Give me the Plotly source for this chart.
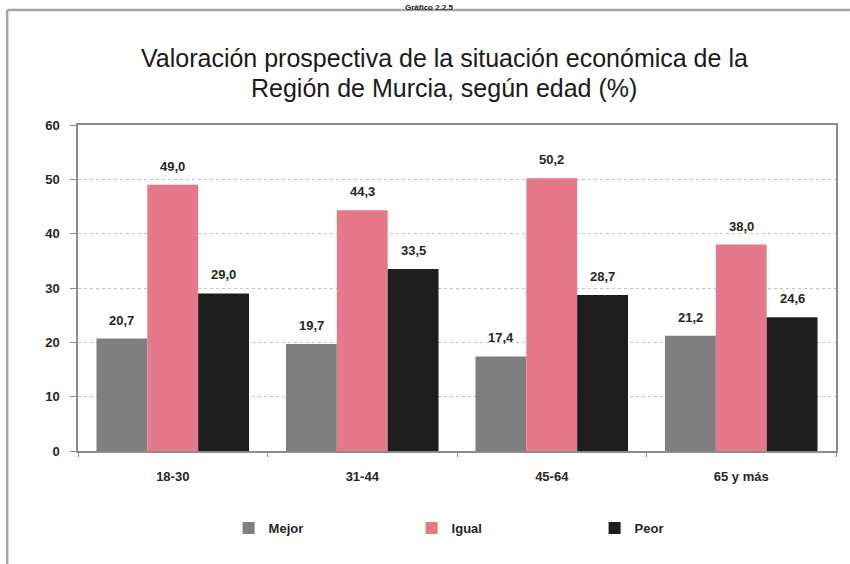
import plotly.graph_objects as go

# datos del gráfico
edades = ['18-30', '31-44', '45-64', '65 y más']
mejor = [20.7, 19.7, 17.4, 21.2]
igual = [49.0, 44.3, 50.2, 38.0]
peor = [29.0, 33.5, 28.7, 24.6]

series = [('Mejor', mejor, '#7f7f7f'), ('Igual', igual, '#e5788a'), ('Peor', peor, '#1e1e1e')]
titulo = ['Valoración prospectiva de la situación económica de la',
          'Región de Murcia, según edad (%)']

# geometry of the plot area (pixels in the 850x564 page)
L, R, T, B = 78, 12, 125, 113
W, H = 850 - L - R, 564 - T - B
BAR_PX = 51  # ancho aproximado de cada barra, para colocar las etiquetas


def px(x):
    return (x - L) / W


def py(y):
    return (564 - B - y) / H


fig = go.Figure()
for i, (name, vals, color) in enumerate(series):
    fig.add_trace(go.Bar(
        x=edades, y=vals, name=name, marker=dict(color=color, line=dict(width=0)),
    ))
    # etiquetas de valor encima de cada barra
    for cat, v in zip(edades, vals):
        fig.add_annotation(
            x=cat, y=v, xref='x', yref='y', xshift=(i - 1) * BAR_PX, yshift=9,
            text=f'{v:.1f}'.replace('.', ','), showarrow=False, yanchor='bottom',
            font=dict(family='Liberation Sans', size=13, color='#262626', weight='bold'),
        )

fig.update_layout(
    width=850, height=564,
    margin=dict(l=L, r=R, t=T, b=B),
    paper_bgcolor='white', plot_bgcolor='white',
    barmode='group', bargap=0.195, bargroupgap=0,
    font=dict(family='Liberation Sans', size=13, color='#262626'),
    showlegend=True,
    legend=dict(orientation='h', x=px(229), y=py(528), xanchor='left', yanchor='middle',
                entrywidth=138, entrywidthmode='pixels',
                font=dict(family='Liberation Sans', size=13, color='#262626', weight='bold'),
                traceorder='normal'),
)

fig.update_yaxes(
    range=[0, 60], dtick=10, showgrid=True, gridcolor='#c4c4c4', griddash='dot', gridwidth=1,
    showline=True, linecolor='#8c8c8c', linewidth=1.5, mirror=True,
    ticks='outside', ticklen=6, tickcolor='#8c8c8c', ticklabelstandoff=8,
    tickfont=dict(size=13, color='#262626', weight='bold'), zeroline=False,
)
fig.update_xaxes(
    showline=True, linecolor='#8c8c8c', linewidth=1.5, mirror=True,
    ticks='outside', ticklen=4, tickcolor='#8c8c8c', tickson='boundaries',
    ticklabelstandoff=13,
    tickfont=dict(size=13, color='#262626', weight='bold'),
)

# marco exterior del gráfico
fig.add_shape(type='line', xref='paper', yref='paper', x0=px(7), x1=px(852), y0=py(10), y1=py(10),
              line=dict(color='#a6a6a6', width=2.5))
fig.add_shape(type='line', xref='paper', yref='paper', x0=px(7), x1=px(7), y0=py(10), y1=py(570),
              line=dict(color='#a6a6a6', width=2.5))

for linea, ypix in zip(titulo, [58, 88]):
    fig.add_annotation(
        text=linea, xref='paper', yref='paper', x=px(445), y=py(ypix),
        xanchor='center', yanchor='middle', showarrow=False,
        font=dict(family='Liberation Sans', size=25, color='#1a1a1a'),
    )
fig.add_annotation(
    text='Gráfico 2.2.5', xref='paper', yref='paper', x=px(430), y=py(1),
    xanchor='center', yanchor='top', showarrow=False,
    font=dict(family='Liberation Sans', size=8, color='#1a1a1a', weight='bold'),
)

fig.write_html('out.html', config={'displayModeBar': False},
               post_script="document.body.style.margin='0';")
